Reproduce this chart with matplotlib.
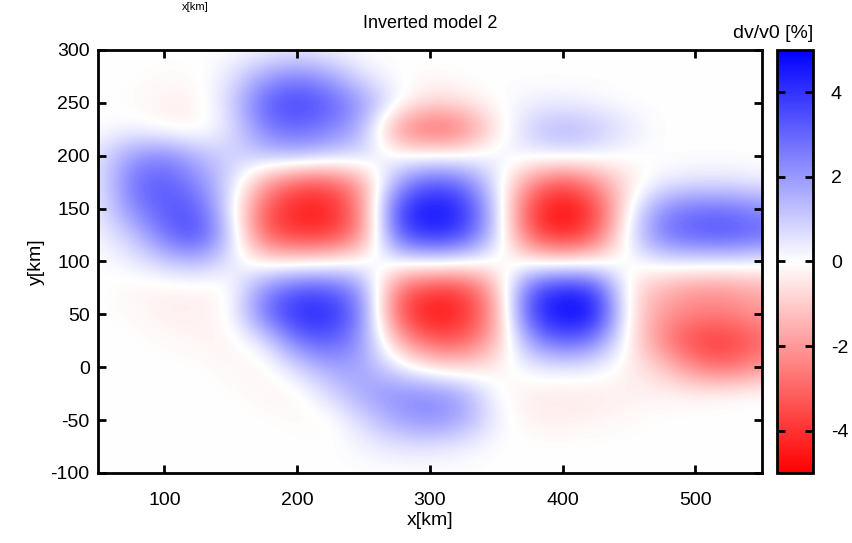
import numpy as np
import matplotlib
matplotlib.use('Agg')
import matplotlib.pyplot as plt
from matplotlib.colors import LinearSegmentedColormap

# grid nodes (km) and dv/v0 values [%], rows from y=300 down to y=-100
x_nodes = np.arange(50, 551, 25)
y_nodes = np.arange(300, -101, -25)
dv = np.array([
    # 50   75   100  125  150  175  200  225  250  275  300  325  350  375  400  425  450  475  500  525  550
    [0.0, 0.0, 0.0, 0.0, 0.0, 0.2, 0.3, 0.2, 0.0, 0.0, 0.0, 0.0, 0.0, 0.0, 0.0, 0.0, 0.0, 0.0, 0.0, 0.0, 0.0],   # 300
    [0.0, 0.0, -0.1, -0.1, 0.5, 1.8, 2.5, 1.8, 0.5, 0.0, -0.1, 0.0, 0.0, 0.0, 0.0, 0.0, 0.0, 0.0, 0.0, 0.0, 0.0],  # 275
    [0.0, -0.1, -0.3, -0.3, 0.8, 3.2, 3.8, 3.2, 2.0, 0.3, -0.8, -0.5, 0.0, 0.3, 0.3, 0.2, 0.0, 0.0, 0.0, 0.0, 0.0],  # 250
    [0.0, 0.2, -0.2, -0.3, 0.5, 2.5, 3.0, 2.5, 1.5, -2.3, -3.3, -2.8, -0.5, 1.0, 1.6, 1.2, 0.5, 0.0, 0.0, 0.0, 0.0],  # 225
    [0.5, 2.0, 2.5, 1.5, 0.8, 1.2, 1.5, 1.0, 0.8, 0.0, 0.0, 0.0, 0.3, 0.3, 0.5, 0.3, 0.0, 0.0, 0.0, 0.0, 0.0],  # 200
    [0.3, 2.8, 3.3, 2.3, 0.8, -1.8, -3.3, -3.3, -1.8, 1.8, 3.3, 2.8, 0.5, -2.2, -3.5, -2.2, -0.5, 0.3, 0.5, 0.5, 0.3],  # 175
    [0.3, 2.3, 3.3, 3.3, 0.5, -3.3, -4.5, -4.5, -2.3, 3.8, 4.8, 4.3, 1.0, -3.8, -5.0, -3.8, 0.0, 2.3, 2.8, 2.8, 2.3],  # 150
    [0.2, 1.0, 2.8, 3.8, 1.0, -3.3, -4.0, -4.0, -2.3, 3.3, 4.3, 3.8, 1.0, -3.3, -4.5, -3.3, 0.5, 2.8, 3.3, 3.5, 3.0],  # 125
    [0.0, 0.3, 1.0, 1.5, 0.5, -0.5, -0.5, -0.3, 0.0, 0.3, 0.5, 0.3, 0.0, -0.3, -0.5, -0.3, 0.0, 0.5, 0.5, 0.5, 0.3],  # 100
    [0.0, -0.2, -0.3, -0.3, -0.2, 2.3, 3.3, 3.3, 2.0, -2.8, -3.8, -3.8, -1.5, 3.3, 4.3, 3.8, -0.5, -1.5, -2.0, -2.0, -1.5],  # 75
    [0.0, -0.1, -0.3, -0.3, -0.1, 2.8, 4.3, 4.3, 2.5, -3.3, -4.8, -4.3, -2.0, 3.8, 5.0, 4.8, -0.5, -2.0, -2.5, -2.5, -2.0],  # 50
    [0.0, 0.0, -0.1, -0.2, -0.3, 0.5, 2.8, 3.3, 2.0, -1.5, -3.3, -3.3, -1.5, 2.0, 3.3, 2.5, -0.3, -2.5, -3.8, -4.0, -3.0],  # 25
    [0.0, 0.0, 0.0, 0.0, -0.2, -0.3, 0.8, 1.8, 1.8, 0.5, -0.5, -0.8, -0.3, 0.3, 0.5, 0.3, -0.3, -1.0, -2.5, -3.0, -2.0],  # 0
    [0.0, 0.0, 0.0, 0.0, 0.0, -0.2, -0.3, 0.8, 1.8, 2.3, 2.3, 1.8, 0.0, -0.4, -0.5, -0.4, -0.3, -0.2, -0.2, -0.1, 0.0],  # -25
    [0.0, 0.0, 0.0, 0.0, 0.0, 0.0, -0.1, -0.2, 0.8, 1.8, 2.3, 1.8, 0.3, -0.3, -0.3, -0.2, -0.1, 0.0, 0.0, 0.0, 0.0],  # -50
    [0.0, 0.0, 0.0, 0.0, 0.0, 0.0, 0.0, 0.0, 0.2, 0.5, 0.5, 0.3, 0.0, 0.0, 0.0, 0.0, 0.0, 0.0, 0.0, 0.0, 0.0],  # -75
    [0.0, 0.0, 0.0, 0.0, 0.0, 0.0, 0.0, 0.0, 0.0, 0.0, 0.0, 0.0, 0.0, 0.0, 0.0, 0.0, 0.0, 0.0, 0.0, 0.0, 0.0],  # -100
])
x_ticks = [100, 200, 300, 400, 500]
y_ticks = [-100, -50, 0, 50, 100, 150, 200, 250, 300]
cb_ticks = [-4, -2, 0, 2, 4]

plt.rcParams['font.family'] = ['Liberation Sans', 'DejaVu Sans']
plt.rcParams['font.size'] = 14
plt.rcParams['axes.unicode_minus'] = False

cmap = LinearSegmentedColormap.from_list('rwb', ['#ff0000', '#ffffff', '#0000ff'])

fig = plt.figure(figsize=(8.52, 5.43), dpi=100)
ax = fig.add_axes([0.115, 0.129, 0.779, 0.779])
cax = fig.add_axes([0.912, 0.129, 0.042, 0.779])

dx = 12.5
im = ax.imshow(dv, cmap=cmap, vmin=-5, vmax=5, interpolation='bicubic',
               extent=[x_nodes[0] - dx, x_nodes[-1] + dx,
                       y_nodes[-1] - dx, y_nodes[0] + dx],
               aspect='auto', origin='upper')
ax.set_xlim(50, 550)
ax.set_ylim(-100, 300)
ax.set_xticks(x_ticks)
ax.set_yticks(y_ticks)
ax.tick_params(direction='in', length=6, width=2, top=True, right=True, labelsize=14)
ax.tick_params(axis='x', pad=14)
ax.tick_params(axis='y', pad=6)
for s in ax.spines.values():
    s.set_linewidth(2)
ax.set_xlabel('x[km]', fontsize=14, labelpad=2)
ax.set_ylabel('y[km]', fontsize=14, labelpad=4)
ax.set_title('Inverted model 2', fontsize=13, pad=16)

cb = fig.colorbar(im, cax=cax, ticks=cb_ticks)
cb.outline.set_linewidth(2)
cax.tick_params(direction='in', length=6, width=2, left=True, right=True,
                labelsize=14, pad=13)
fig.text(0.955, 1 - 38 / 543, 'dv/v0 [%]', ha='right', va='baseline', fontsize=14)

# small label at the very top edge of the image
fig.text(195 / 852, 1 - 2 / 543, 'x[km]', ha='center', va='top', fontsize=8)

fig.savefig('out.png', dpi=100)
plt.close(fig)
